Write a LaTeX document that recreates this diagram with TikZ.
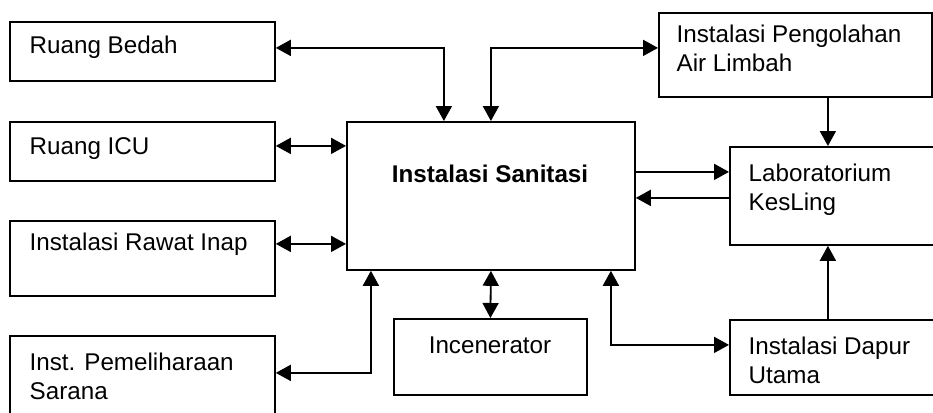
\documentclass[tikz,border=0pt]{standalone}
\usepackage{fontspec}
\setmainfont{Liberation Sans}
\usetikzlibrary{arrows.meta,positioning,calc}
\tikzset{
  unit/.style={rectangle, draw=black, line width=1.8pt, anchor=north west, inner sep=0pt},
  lbl/.style={anchor=north west, inner sep=0pt, align=left,
    font=\fontsize{24.2}{28.5}\selectfont},
  link/.style={{Triangle[length=15pt,width=16pt]}-{Triangle[length=15pt,width=16pt]},
    line width=1.8pt},
  oneway/.style={-{Triangle[length=15pt,width=16pt]}, line width=1.8pt},
}
\begin{document}
\begin{tikzpicture}[x=1pt, y=-1pt]
  \useasboundingbox (0,0) rectangle (933,412);
  % units on the left
  \node[unit, minimum width=265pt, minimum height=59pt] (bedah) at (9,21) {};
  \node[unit, minimum width=265pt, minimum height=59pt] (icu) at (9,121) {};
  \node[unit, minimum width=265pt, minimum height=75pt] (rawat) at (9,220) {};
  \node[unit, minimum width=265pt, minimum height=90pt] (pemel) at (9,335) {};
  \node[lbl] (bedahT) at (29.5,36) {Ruang Bedah};
  \node[lbl] (icuT) at (29.5,137) {Ruang ICU};
  \node[lbl] (rawatT) at (29.5,233) {Instalasi Rawat Inap};
  \node[lbl] (pemelT) at (29.5,353) {Inst. Pemeliharaan\\Sarana};
  % central unit and incenerator
  \node[unit, minimum width=288pt, minimum height=148pt] (sanitasi) at (346,121) {};
  \node[lbl, anchor=base, font=\fontsize{24.2}{28.5}\selectfont\bfseries] (sanitasiT)
    at (490,182) {Instalasi Sanitasi};
  \node[unit, minimum width=193pt, minimum height=76pt] (incen) at (393,318) {};
  \node[lbl, anchor=north] (incenT) at (490,337) {Incenerator};
  % units on the right
  \node[unit, minimum width=273pt, minimum height=84pt] (ipal) at (658,12) {};
  \node[unit, minimum width=220pt, minimum height=98pt] (lab) at (729,146) {};
  \node[unit, minimum width=220pt, minimum height=75pt] (dapur) at (729,319) {};
  \node[lbl] (ipalT) at (676.5,25) {Instalasi Pengolahan\\Air Limbah};
  \node[lbl] (labT) at (748.5,164) {Laboratorium\\KesLing};
  \node[lbl] (dapurT) at (748.5,337) {Instalasi Dapur\\Utama};
  % connectors
  \draw[link] ([yshift=3.5pt]bedah.east) -| ([xshift=-47pt]sanitasi.north);
  \draw[link] (sanitasi.north) |- ([yshift=7pt]ipal.west);
  \draw[link] ([yshift=5.5pt]icu.east) -- ([yshift=5.5pt]icu.east -| sanitasi.west);
  \draw[link] ([yshift=14.5pt]rawat.east) -- ([yshift=14.5pt]rawat.east -| sanitasi.west);
  \draw[link] ([yshift=8pt]pemel.east) -| ([xshift=-120pt]sanitasi.south);
  \draw[link] (sanitasi.south) -- (incen.north);
  \draw[link] ([xshift=120pt]sanitasi.south) |- ([yshift=12.5pt]dapur.west);
  \draw[oneway] ([yshift=24pt]sanitasi.east) -- ([yshift=24pt]sanitasi.east -| lab.west);
  \draw[oneway] ([yshift=-2pt]lab.west) -- ([yshift=-2pt]lab.west -| sanitasi.east);
  \draw[oneway] ([xshift=-12pt]lab.north |- ipal.south) -- ([xshift=-12pt]lab.north);
  \draw[oneway] ([xshift=-12pt]dapur.north) -- ([xshift=-12pt]lab.south);
\end{tikzpicture}
\end{document}
